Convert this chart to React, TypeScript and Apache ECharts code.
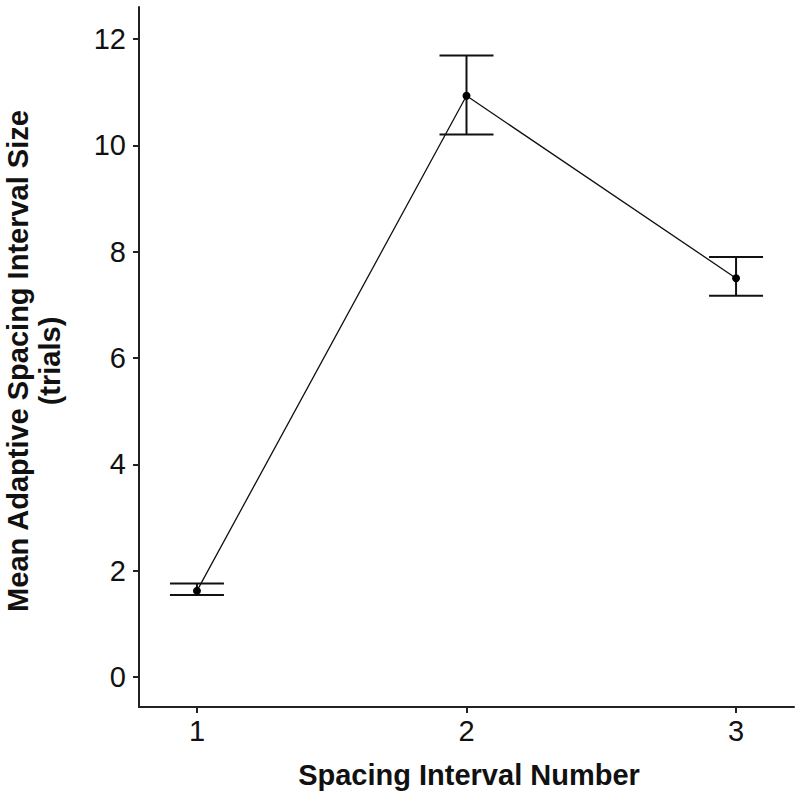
import React, { useEffect, useRef } from "react";
import * as echarts from "echarts";

const intervals = [1, 2, 3];
const means = [1.62, 10.93, 7.5];
const upper = [1.76, 11.69, 7.9];
const lower = [1.54, 10.2, 7.17];
const yTicks = [0, 2, 4, 6, 8, 10, 12];
const xTicks = [1, 2, 3];

const FONT = "'Liberation Sans', Arial, sans-serif";

export default function App() {
  const ref = useRef<HTMLDivElement>(null);
  useEffect(() => {
    if (!ref.current) return;
    const chart = echarts.init(ref.current, null, { renderer: "svg" });
    const lineData = intervals.map((x, i) => [x, means[i]]);
    const errData = intervals.map((x, i) => [x, lower[i], upper[i]]);
    chart.setOption({
      animation: false,
      backgroundColor: "#ffffff",
      grid: { left: 139, right: 6, top: 7, bottom: 96, containLabel: false, outerBoundsMode: "none" },
      xAxis: {
        type: "value",
        min: 0.785,
        max: 3.215,
        splitLine: { show: false },
        axisLine: { show: true, onZero: false, lineStyle: { color: "#222", width: 2 } },
        axisTick: { show: true, length: 6, customValues: xTicks, lineStyle: { color: "#222", width: 2 } },
        axisLabel: { customValues: xTicks, margin: 9, color: "#111", fontSize: 29, fontFamily: FONT },
      },
      yAxis: {
        type: "value",
        min: -0.564,
        max: 12.6,
        splitLine: { show: false },
        axisLine: { show: true, onZero: false, lineStyle: { color: "#222", width: 2 } },
        axisTick: { show: true, length: 6, customValues: yTicks, lineStyle: { color: "#222", width: 2 } },
        axisLabel: { customValues: yTicks, margin: 13, color: "#111", fontSize: 29, fontFamily: FONT },
      },
      series: [
        {
          type: "custom",
          data: errData,
          encode: { x: 0, y: [1, 2] },
          z: 2,
          renderItem: (params: any, api: any) => {
            const x = api.value(0);
            const lo = api.coord([x, api.value(1)]);
            const hi = api.coord([x, api.value(2)]);
            const hw = 27;
            const style = { stroke: "#111", lineWidth: 2, fill: "none" };
            return {
              type: "group",
              children: [
                { type: "line", shape: { x1: lo[0], y1: lo[1], x2: hi[0], y2: hi[1] }, style },
                { type: "line", shape: { x1: lo[0] - hw, y1: lo[1], x2: lo[0] + hw, y2: lo[1] }, style },
                { type: "line", shape: { x1: hi[0] - hw, y1: hi[1], x2: hi[0] + hw, y2: hi[1] }, style },
              ],
            };
          },
        },
        {
          type: "line",
          data: lineData,
          z: 3,
          symbol: "circle",
          symbolSize: 8,
          itemStyle: { color: "#000" },
          lineStyle: { color: "#111", width: 1.3 },
        },
      ],
      graphic: [
        {
          type: "text",
          x: 34,
          y: 361,
          rotation: Math.PI / 2,
          style: {
            text: "Mean Adaptive Spacing Interval Size\n(trials)",
            fontSize: 29,
            fontWeight: "bold",
            fontFamily: FONT,
            fill: "#111",
            align: "center",
            verticalAlign: "middle",
            lineHeight: 32,
          },
        },
        {
          type: "text",
          x: 469,
          y: 775,
          style: {
            text: "Spacing Interval Number",
            fontSize: 29,
            fontWeight: "bold",
            fontFamily: FONT,
            fill: "#111",
            align: "center",
            verticalAlign: "middle",
          },
        },
      ],
    });
    return () => chart.dispose();
  }, []);
  return <div ref={ref} style={{ width: 800, height: 803, position: "absolute", left: 0, top: 0 }} />;
}
